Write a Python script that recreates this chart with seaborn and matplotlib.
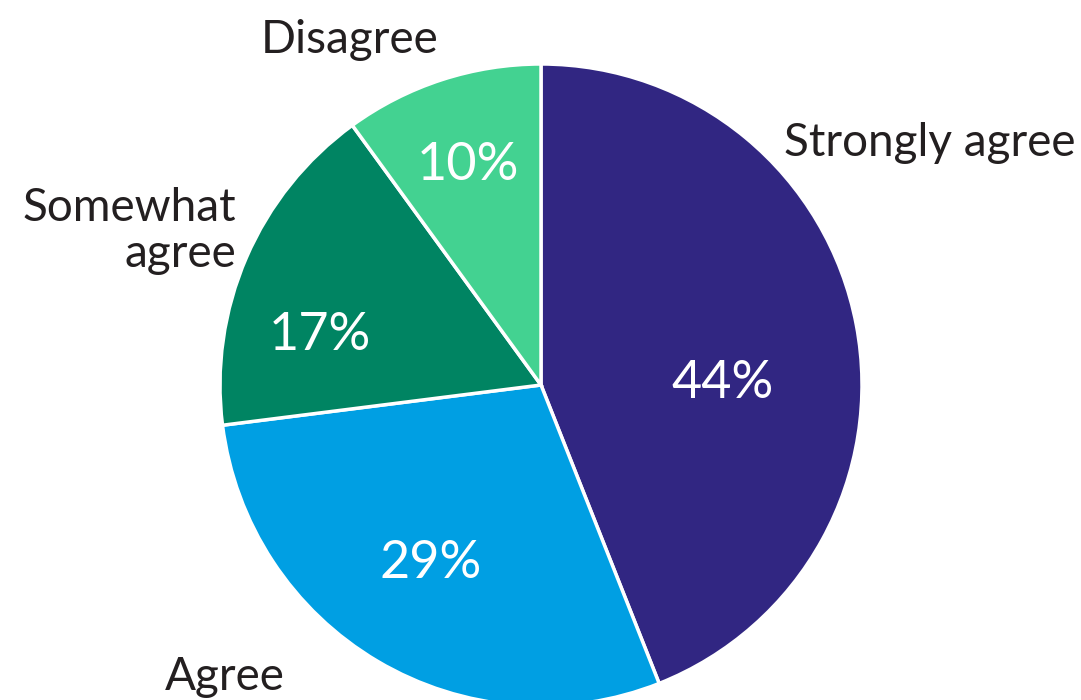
import matplotlib
matplotlib.use("Agg")
import matplotlib.pyplot as plt
import seaborn as sns

# Survey response shares, clockwise from 12 o'clock
categories = ["Strongly agree", "Agree", "Somewhat agree", "Disagree"]
shares = [44, 29, 17, 10]
pct_labels = ["44%", "29%", "17%", "10%"]
colors = ["#312682", "#009FE3", "#008462", "#43D291"]

sns.set_theme(style="white")
plt.rcParams["font.family"] = ["Lato", "DejaVu Sans"]

W, H = 1081, 700
fig = plt.figure(figsize=(W / 100, H / 100), dpi=100)
ax = fig.add_axes([0, 0, 1, 1])

cx, cy, r = 541, H - 385, 321
wedges, _ = ax.pie(
    shares,
    colors=colors,
    startangle=90,
    counterclock=False,
    center=(cx, cy),
    radius=r,
    wedgeprops=dict(edgecolor="white", linewidth=2.5),
    frame=True,
)
ax.set_xlim(0, W)
ax.set_ylim(0, H)
ax.set_aspect("equal")
ax.axis("off")

# percentage labels inside the slices
pct_pos = [(723, 383), (431, 563), (320, 335), (468, 165)]
for txt, (x, y) in zip(pct_labels, pct_pos):
    ax.text(x, H - y, txt, color="white", fontsize=37.5, fontweight="normal",
            ha="center", va="center")

# category labels around the pie
cat_pos = [
    (930, 143, "center"),
    (225, 677, "center"),
    (236, 231, "right"),
    (350, 40, "center"),
]
cat_text = ["Strongly agree", "Agree", "Somewhat\nagree", "Disagree"]
for txt, (x, y, ha) in zip(cat_text, cat_pos):
    ax.text(x, H - y, txt, color="#231F20", fontsize=33, ha=ha, va="center",
            multialignment="right", linespacing=1.1)

fig.savefig("out.png", dpi=100)
